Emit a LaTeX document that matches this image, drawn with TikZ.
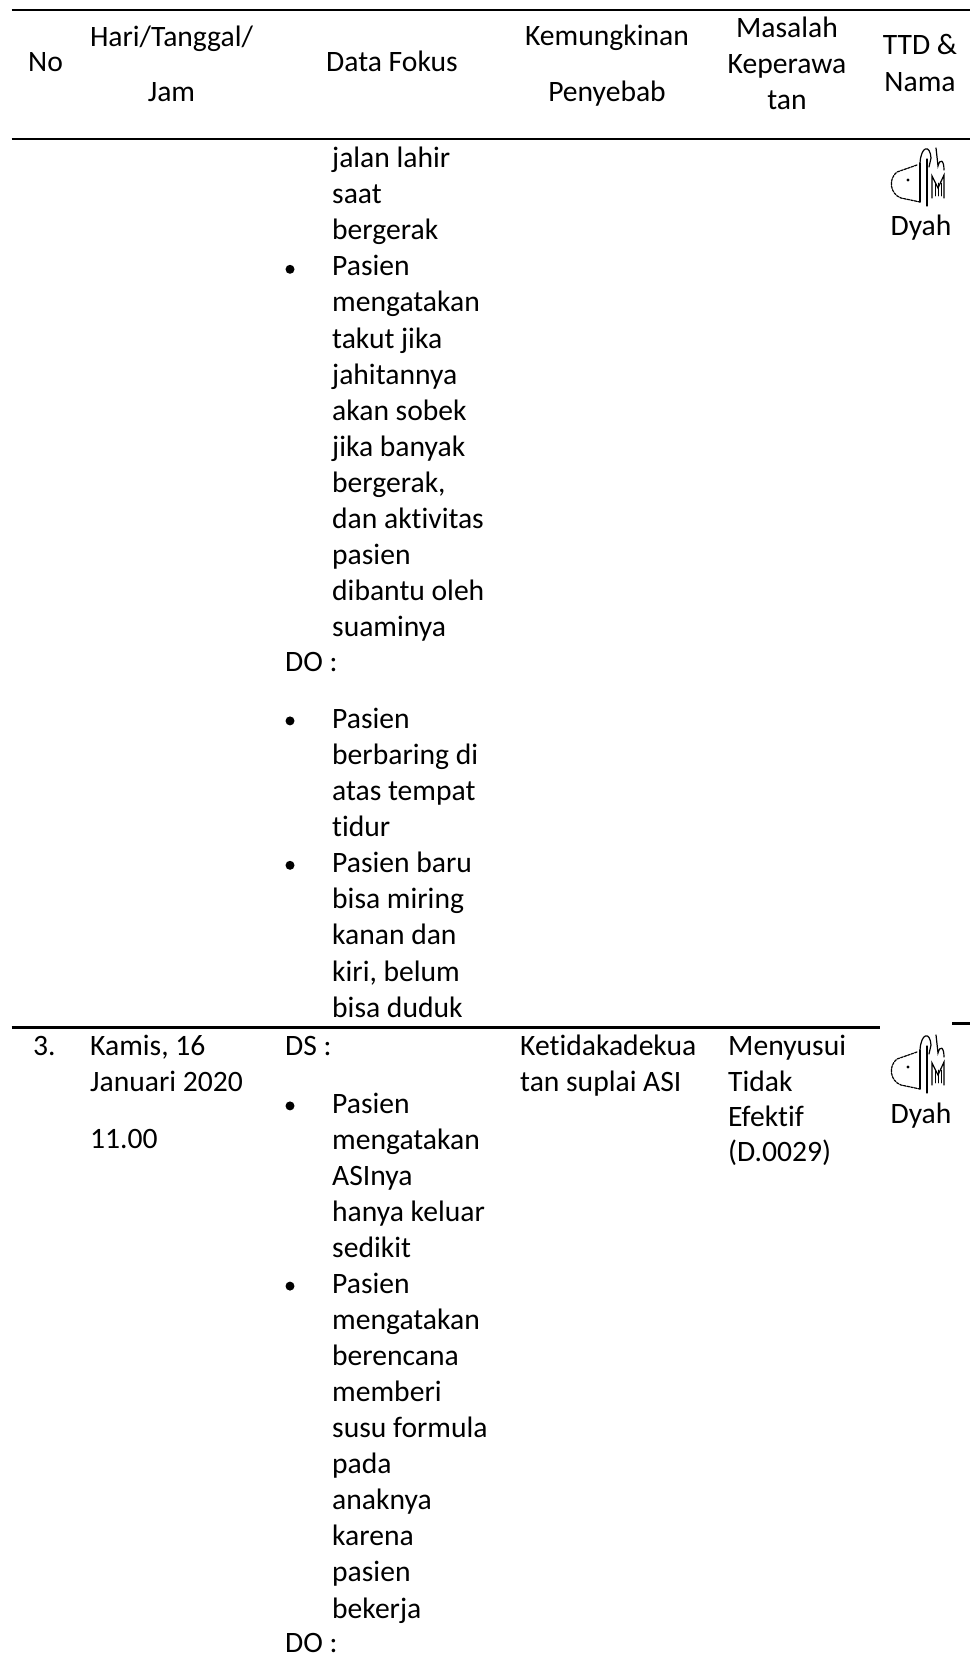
\documentclass[tikz,border=0pt]{standalone}
\usepackage{fontspec}
\setmainfont{Carlito}[Ligatures=NoCommon]

\newcommand{\tabfont}{\fontsize{29.6}{36.1}\selectfont}

\newcommand{\ttdsign}[1]{%
  \begin{scope}[shift={#1}]
    \draw[ttdline, dash pattern=on 2.5pt off 1.2pt] (-1,-15) -- (-21,-8) .. controls (-30,-1) and (-28,14) .. (-17,18) -- (2,22);
    \fill (-10,0) circle (1.6pt);
    \draw[ttdline] (2,-17) -- (2,22);
    \draw[ttdline] (9,-21) -- (9,26);
    \draw[ttdline] (2,-17) .. controls (3,-34) and (12,-36) .. (13,-22) -- (11,-13);
    \draw[ttdline] (18,-32) -- (20,-14) .. controls (22,-22) and (26,-20) .. (26,-10);
    \draw[ttdline] (14,18) -- (14,-4) -- (20,8) -- (26,-5) -- (26,18);
    \foreach \hx in {17,20,23}
        \draw[ttdline, line width=0.7pt] (\hx,3) -- (\hx,16);
  \end{scope}}

\begin{document}
\begin{tikzpicture}[x=1pt, y=-1pt,
    cell/.style={anchor=base west, inner sep=0pt, font=\tabfont},
    headtext/.style={anchor=base, inner sep=0pt, font=\tabfont},
    bullet/.style={circle, fill=black, inner sep=0pt, minimum size=9pt},
    tabrule/.style={black, line width=2.2pt},
    ttdline/.style={black, line width=1.2pt, line cap=round}]

    \useasboundingbox (0,0) rectangle (970,1675);

    \draw[tabrule] (11.7,10) -- (970,10);
    \draw[tabrule] (11.7,139) -- (970,139);

    \node[cell] (h-no) at (28,72) {No};
    \node[headtext] (h-hari) at (171.5,46.7) {Hari/Tanggal/};
    \node[headtext] (h-jam) at (171.5,101.7) {Jam};
    \node[headtext] (h-data) at (392,72) {Data Fokus};
    \node[headtext] (h-kem) at (607,46) {Kemungkinan};
    \node[headtext] (h-pen) at (607,101.7) {Penyebab};
    \node[headtext] (h-mas) at (787,37.5) {Masalah};
    \node[headtext] (h-kep) at (787,74) {Keperawa};
    \node[headtext] (h-tan) at (787,109.5) {tan};
    \node[headtext] (h-ttd) at (920,55) {TTD \&};
    \node[headtext] (h-nama) at (920,91.7) {Nama};

    \foreach \txt [count=\k from 0] in {jalan lahir, saat, bergerak, Pasien, mengatakan, takut jika, jahitannya, akan sobek, jika banyak, {bergerak,}, dan aktivitas, pasien, dibantu oleh, suaminya}
        \node[cell] (ds-\k) at (332,167.5+36.1*\k) {\txt};
    \node[bullet] (b-1) at (290,269.3) {};

    \node[cell] (do-a) at (285,671.5) {DO :};
    \foreach \txt [count=\k from 0] in {Pasien, berbaring di, atas tempat, tidur, Pasien baru, bisa miring, kanan dan, {kiri, belum}, bisa duduk}
        \node[cell] (dob-\k) at (332,728.3+36.1*\k) {\txt};
    \node[bullet] (b-2) at (290,720.9) {};
    \node[bullet] (b-3) at (290,865.3) {};

    \ttdsign{(918,180)}
    \node[headtext] (ttd-a) at (921,235) {Dyah};

    \draw[tabrule] (11.7,1027.5) -- (880,1027.5);
    \draw[tabrule] (952,1023.5) -- (970,1023.5);

    \node[cell] (no-3) at (33,1055) {3.};
    \node[cell] (tgl-1) at (90,1055) {Kamis, 16};
    \node[cell] (tgl-2) at (90,1091.7) {Januari 2020};
    \node[cell] (jam-3) at (90,1148.3) {11.00};

    \node[cell] (ds-b) at (285,1055) {DS :};
    \foreach \txt [count=\k from 0] in {Pasien, mengatakan, ASInya, hanya keluar, sedikit, Pasien, mengatakan, berencana, memberi, susu formula, pada, anaknya, karena, pasien, bekerja}
        \node[cell] (dsb-\k) at (332,1113.3+36.05*\k) {\txt};
    \node[bullet] (b-4) at (290,1105.9) {};
    \node[bullet] (b-5) at (290,1286.1) {};
    \node[cell] (do-b) at (285,1652) {DO :};

    \node[cell] (kp-1) at (520,1055) {Ketidakadekua};
    \node[cell] (kp-2) at (520,1091.7) {tan suplai ASI};

    \node[cell] (mk-1) at (728,1055) {Menyusui};
    \node[cell] (mk-2) at (728,1091.5) {Tidak};
    \node[cell] (mk-3) at (728,1126) {Efektif};
    \node[cell] (mk-4) at (728,1161) {(D.0029)};

    \ttdsign{(918,1067)}
    \node[headtext] (ttd-b) at (921,1123.3) {Dyah};
\end{tikzpicture}
\end{document}
